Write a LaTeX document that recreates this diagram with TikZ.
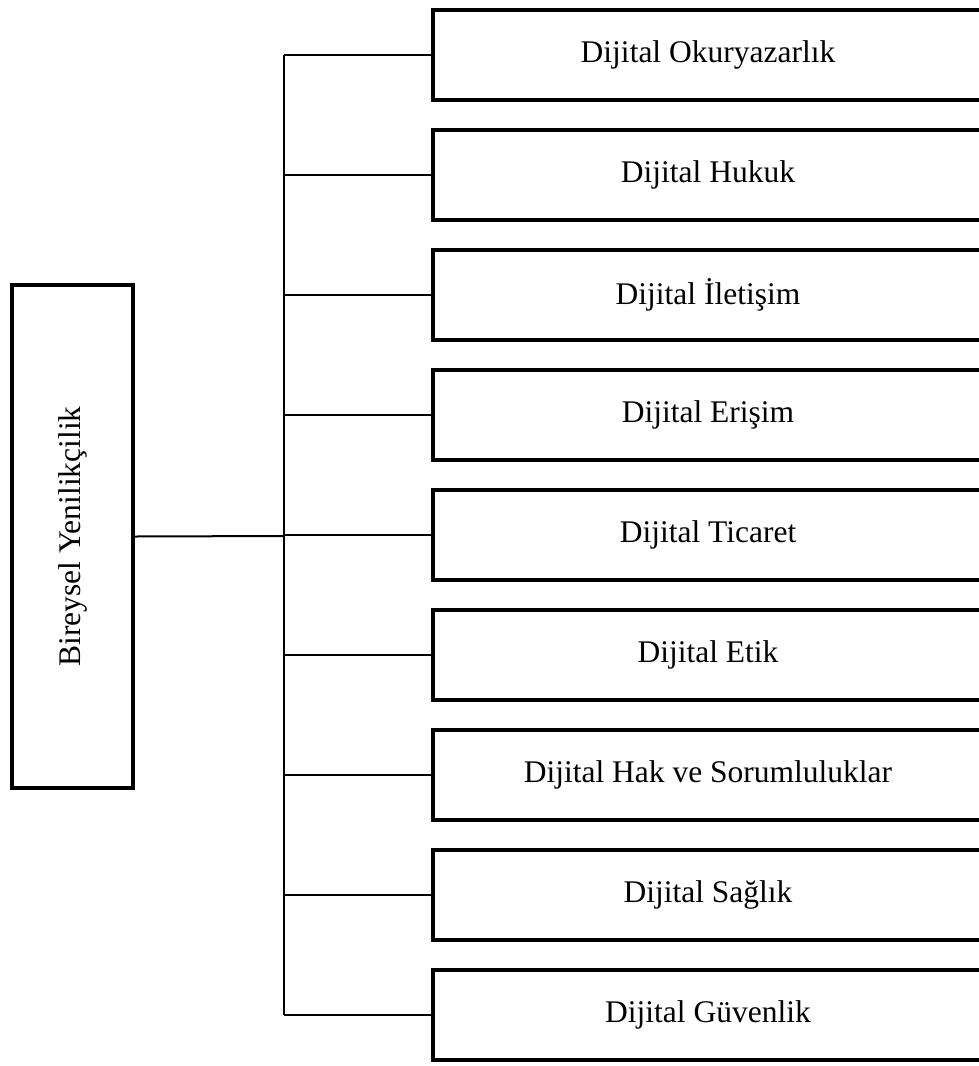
\documentclass[tikz,border=0pt]{standalone}
\usepackage{fontspec}
\setmainfont{Liberation Serif}
\usetikzlibrary{positioning}
\tikzset{
    node distance=120pt, % Vertical step between the boxes
    every node/.style={font=\fontsize{31.5}{36}\selectfont},
    topic/.style={draw, line width=4pt, minimum width=550pt, minimum height=90pt, inner sep=0pt}, % Right-hand boxes
    root/.style={draw, line width=4pt, rotate=90, minimum width=503pt, minimum height=121pt, inner sep=0pt}, % Left box
    branch/.style={line width=2pt}, % Connectors
}
\begin{document}
\begin{tikzpicture}[x=1pt, y=-1pt]
    \useasboundingbox (0,0) rectangle (979,1066);
    \clip (0,0) rectangle (979,1066);

    \node[root] (by) at (72.5,536.5) {Bireysel Yenilikçilik};

    \node[topic] (d1) at (708,55) {Dijital Okuryazarlık};
    \node[topic] (d2) [below of=d1] {Dijital Hukuk};
    \node[topic] (d3) [below of=d2] {Dijital İletişim};
    \node[topic] (d4) [below of=d3] {Dijital Erişim};
    \node[topic] (d5) [below of=d4] {Dijital Ticaret};
    \node[topic] (d6) [below of=d5] {Dijital Etik};
    \node[topic] (d7) [below of=d6] {Dijital Hak ve Sorumluluklar};
    \node[topic] (d8) [below of=d7] {Dijital Sağlık};
    \node[topic] (d9) [below of=d8] {Dijital Güvenlik};

    \coordinate (trunk) at (284,536);
    \draw[branch] (by.south) -- (trunk);
    \draw[branch] (d1.west -| trunk) -- (d9.west -| trunk);
    \foreach \d in {d1,d2,d3,d4,d5,d6,d7,d8,d9}
        \draw[branch] (\d.west -| trunk) -- (\d.west);
\end{tikzpicture}
\end{document}
